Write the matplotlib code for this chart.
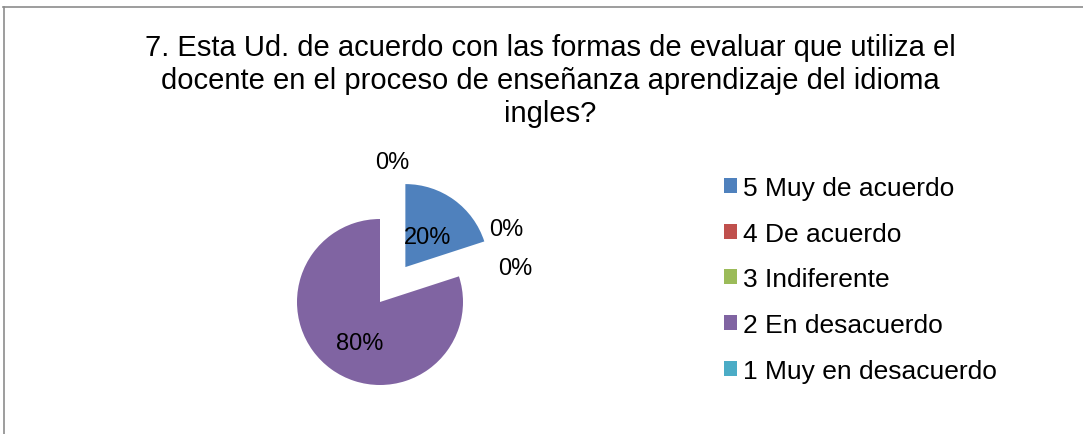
import numpy as np
import matplotlib
matplotlib.use('Agg')
from matplotlib import pyplot as plt
from matplotlib.lines import Line2D

''' Data '''
categories = ['5 Muy de acuerdo', '4 De acuerdo', '3 Indiferente',
              '2 En desacuerdo', '1 Muy en desacuerdo']
values = [20, 0, 0, 80, 0]
colors = ['#4F81BD', '#C0504D', '#9BBB59', '#8064A2', '#4BACC6']
explode = [0.52, 0, 0, 0, 0]
title = ('7. Esta Ud. de acuerdo con las formas de evaluar que utiliza el\n'
         'docente en el proceso de enseñanza aprendizaje del idioma\n'
         'ingles?')

plt.rcParams['font.family'] = ['Liberation Sans', 'DejaVu Sans']

''' Figure '''
W, H = 1083, 435
fig = plt.figure(figsize=(W / 100, H / 100), dpi=100)

# chart border (top and left edges visible)
fig.add_artist(Line2D([3 / W, 1], [1 - 8 / H, 1 - 8 / H], color='#8c8c8c', lw=1.2))
fig.add_artist(Line2D([3.5 / W, 3.5 / W], [0, 1 - 8 / H], color='#8c8c8c', lw=1.2))

fig.text(550 / W, 1 - 34 / H, title, ha='center', va='top', fontsize=21,
         linespacing=1.22)

# pie axes: radius 83px, centre at (380, 303) px
R = 83.0
cx, cy = 380, 303
x0, x1, y0, y1 = 230, 560, 140, 430
ax = fig.add_axes([x0 / W, 1 - y1 / H, (x1 - x0) / W, (y1 - y0) / H])
wedges, _ = ax.pie(values, colors=colors, explode=explode, startangle=90,
                   counterclock=False, radius=1.0)
ax.set_xlim((x0 - cx) / R, (x1 - cx) / R)
ax.set_ylim(-(y1 - cy) / R, (cy - y0) / R)
ax.set_aspect('auto')
ax.axis('off')

# percentage labels (distance, angle tweak) per slice
label_pos = [(0.45, 0), (1.75, 12), (1.68, -4), (0.55, 10), (1.69, -5)]
for w, v, e, (d, tweak) in zip(wedges, values, explode, label_pos):
    mid = np.deg2rad((w.theta1 + w.theta2) / 2 + tweak)
    ox, oy = w.center
    ax.text(ox + d * np.cos(mid), oy + d * np.sin(mid), '%d%%' % v,
            ha='center', va='center', fontsize=17)

fig.legend(wedges, categories, loc='upper left',
           bbox_to_anchor=(724 / W, 1 - 177 / H), frameon=False,
           fontsize=19, handlelength=0.5, handleheight=0.5,
           handletextpad=0.22, labelspacing=0.82, borderpad=0,
           borderaxespad=0)

plt.savefig('out.png', dpi=100)
